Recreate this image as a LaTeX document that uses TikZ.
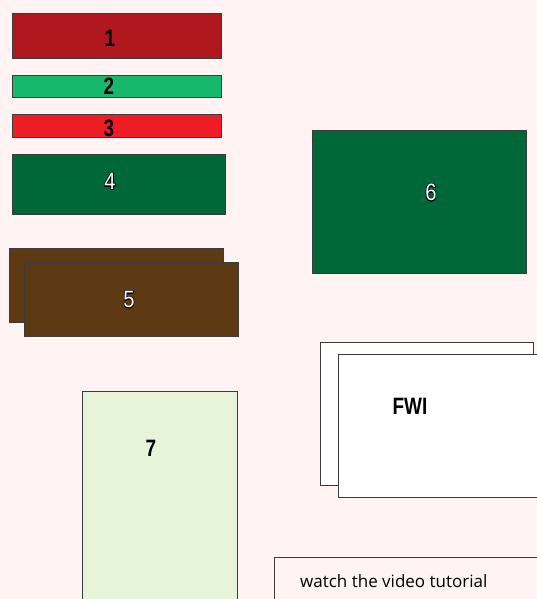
\documentclass[tikz,border=0pt]{standalone}
\usepackage{fontspec}
\setmainfont{Liberation Sans}
\newfontfamily\tutfont{Open Sans}
\usepackage{contour}
\contourlength{0.6pt}
\definecolor{bgpink}{HTML}{FFF3F3}
\definecolor{boxred}{HTML}{B0171F}
\definecolor{boxmint}{HTML}{16B86C}
\definecolor{boxscarlet}{HTML}{EE1C25}
\definecolor{boxgreen}{HTML}{006838}
\definecolor{boxbrown}{HTML}{5E3A14}
\definecolor{boxpale}{HTML}{E6F4DA}
\definecolor{edgegray}{HTML}{3C3C3C}

\begin{document}
\begin{tikzpicture}[
  x=1pt, y=-1pt,
  box/.style={rectangle, draw=edgegray, line width=0.9pt, inner sep=0pt},
  numlbl/.style={inner sep=0pt, font=\bfseries\fontsize{23.7}{24}\selectfont, xscale=0.8, transform shape},
  outlbl/.style={inner sep=0pt, text=white, font=\fontsize{23.7}{24}\selectfont, xscale=0.85, transform shape},
  tutlbl/.style={inner sep=0pt, anchor=west, font=\tutfont\fontsize{17}{20}\selectfont}
]
\useasboundingbox (0,0) rectangle (537,599);
\fill[bgpink] (0,0) rectangle (537,599);
\clip (0,0) rectangle (537,599);

% left column of bars
\node[box, fill=boxred, minimum width=209pt, minimum height=45pt] (b1) at (116.5,35.5) {};
\node[box, fill=boxmint, minimum width=209pt, minimum height=22pt] (b2) at (116.5,86) {};
\node[box, fill=boxscarlet, minimum width=209pt, minimum height=23pt] (b3) at (116.5,125.5) {};
\node[box, fill=boxgreen, minimum width=213pt, minimum height=60pt] (b4) at (118.5,184) {};
\node[numlbl] (l1) at (110,38) {1};
\node[numlbl] (l2) at (109,86) {2};
\node[numlbl] (l3) at (109,128) {3};
\node[outlbl] (l4) at (110,182) {\contour{black}{4}};

% stacked brown boxes
\node[box, fill=boxbrown, minimum width=214pt, minimum height=74pt] (b5back) at (116,285) {};
\node[box, fill=boxbrown, minimum width=214pt, minimum height=74pt] (b5) at (131,299) {};
\node[outlbl] (l5) at (129,300) {\contour{black}{5}};

% right column
\node[box, fill=boxgreen, minimum width=214pt, minimum height=143pt] (b6) at (419,201.5) {};
\node[outlbl] (l6) at (431,193) {\contour{black}{6}};

\node[box, fill=white, minimum width=213pt, minimum height=143pt] (fwiback) at (426.5,413.5) {};
\node[box, fill=white, minimum width=212pt, minimum height=143pt] (fwi) at (444,425.5) {};
\node[numlbl] (lfwi) at (410,406) {FWI};

% bottom boxes
\node[box, fill=boxpale, minimum width=155pt, minimum height=220pt] (b7) at (159.5,501) {};
\node[numlbl] (l7) at (151,448) {7};

\node[box, minimum width=280pt, minimum height=60pt] (tut) at (414,587) {};
\node[tutlbl] (ltut) at (300,581) {watch the video tutorial};
\end{tikzpicture}
\end{document}
